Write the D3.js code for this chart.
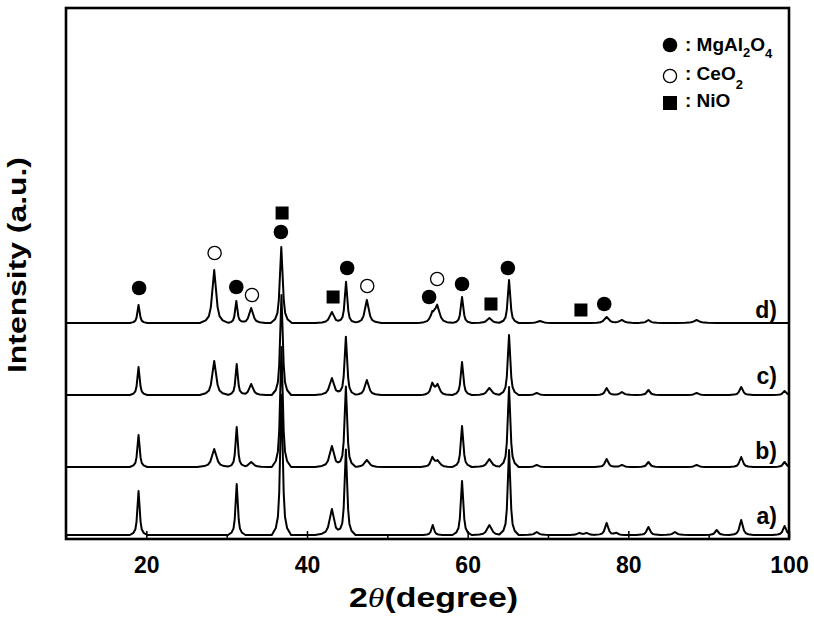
<!DOCTYPE html>
<html>
<head>
<meta charset="utf-8">
<script src="https://cdn.jsdelivr.net/npm/d3@7"></script>
<style>
body { margin: 0; background: #fff; }
text { font-family: "Liberation Sans", Arial, sans-serif; font-weight: bold; fill: #000; }
</style>
</head>
<body>
<svg id="chart" width="814" height="623"></svg>
<script>
// peak tables: [2theta, height (a.u.), half width (deg)]
var peaksA = [
  [19.03, 44, 0.18], [31.25, 51, 0.18], [36.82, 140, 0.2], [43.1, 26, 0.35],
  [44.84, 85, 0.2], [55.65, 10, 0.2], [59.3, 54, 0.2], [62.7, 10, 0.35],
  [65.15, 85, 0.2], [68.6, 3, 0.3], [73.9, 2, 0.3], [74.8, 2, 0.3],
  [77.3, 12, 0.25], [78.5, 2, 0.3], [82.5, 8, 0.25], [85.8, 3, 0.3],
  [91.0, 5, 0.25], [94.05, 15, 0.25], [99.45, 9, 0.25]
];
var peaksB = [
  [19.03, 32, 0.18], [28.45, 18, 0.35], [31.25, 40, 0.18], [33.05, 5, 0.35],
  [36.82, 120, 0.2], [43.1, 21, 0.35], [44.84, 80, 0.2], [47.45, 7, 0.35],
  [55.6, 9, 0.25], [56.25, 6, 0.35], [59.3, 41, 0.2], [62.7, 8, 0.35],
  [65.15, 80, 0.2], [68.6, 2, 0.3], [77.3, 8, 0.25], [79.2, 2, 0.3],
  [82.5, 5, 0.25], [88.5, 2, 0.3], [94.05, 10, 0.25], [99.45, 5, 0.25]
];
var peaksC = [
  [19.03, 28, 0.18], [28.45, 34, 0.3], [31.25, 31, 0.18], [33.05, 11, 0.3],
  [36.82, 100, 0.2], [43.1, 17, 0.35], [44.84, 58, 0.2], [47.45, 15, 0.3],
  [55.6, 11, 0.25], [56.25, 10, 0.3], [59.3, 33, 0.2], [62.7, 7, 0.35],
  [65.15, 60, 0.2], [68.6, 2, 0.3], [77.3, 7, 0.25], [79.2, 3, 0.3],
  [82.5, 5, 0.25], [88.5, 2, 0.3], [94.05, 8, 0.25], [99.45, 4, 0.25]
];
var peaksD = [
  [19.03, 18, 0.18], [28.45, 53, 0.3], [31.2, 22, 0.18], [33.05, 15, 0.3],
  [36.8, 76, 0.22], [43.1, 11, 0.35], [44.86, 41, 0.2], [47.45, 23, 0.3],
  [55.6, 8, 0.3], [56.2, 17, 0.35], [59.3, 26, 0.2], [62.7, 5, 0.35],
  [65.15, 43, 0.2], [69.0, 2, 0.4], [77.3, 6, 0.35], [79.2, 3, 0.35],
  [82.5, 3, 0.3], [88.5, 3, 0.4]
];
var patterns = [peaksA, peaksB, peaksC, peaksD];
var patternLabels = ["a)", "b)", "c)", "d)"];
var patternOffsets = [4, 72, 144, 216];

// phase markers above pattern d: [2theta, level (a.u.)]
var markMgAl2O4 = [[19.1, 251], [31.2, 252], [36.75, 307], [45.0, 271], [55.2, 242], [59.3, 255], [65.0, 271], [77.0, 235]];
var markCeO2 = [[28.5, 286], [33.15, 244], [47.5, 253], [56.2, 260]];
var markNiO = [[36.9, 326], [43.25, 242], [62.9, 235], [74.1, 229]];

var xMajor = [20, 40, 60, 80, 100];
var xMinor = [10, 30, 50, 70, 90];

// line shape of one peak, in half widths
var shape = [[-6, 0], [-3.5, 0.05], [-2.2, 0.13], [-1.4, 0.3], [-0.7, 0.65], [0, 1],
             [0.7, 0.65], [1.4, 0.3], [2.2, 0.13], [3.5, 0.05], [6, 0]];

var svg = d3.select("#chart");
var plotLeft = 66, plotRight = 789, plotTop = 8, plotBottom = 539;

var x = d3.scaleLinear().domain([10, 100]).range([plotLeft, plotRight]);
var y = d3.scaleLinear().domain([0, 531]).range([plotBottom, plotTop]);

// build a pattern: sum of the peak shapes, sampled at their corners
var profile = function (peaks) {
  var xs = [10, 100];
  var parts = peaks.map(function (p) {
    shape.forEach(function (s) { xs.push(p[0] + s[0] * p[2]); });
    return d3.scaleLinear()
      .domain(shape.map(function (s) { return p[0] + s[0] * p[2]; }))
      .range(shape.map(function (s) { return s[1] * p[1]; }))
      .clamp(true);
  });
  xs = xs.filter(function (v) { return v >= 10 && v <= 100; }).sort(d3.ascending);
  return xs.map(function (v) {
    return [v, d3.sum(parts, function (s) { return s(v); })];
  });
};

var traces = svg.append("g");
patterns.forEach(function (peaks, i) {
  var line = d3.line()
    .x(function (d) { return x(d[0]); })
    .y(function (d) { return y(d[1] + patternOffsets[i]); });
  traces.append("path")
    .attr("d", line(profile(peaks)))
    .attr("fill", "none")
    .attr("stroke", "#000")
    .attr("stroke-width", 2)
    .attr("stroke-linejoin", "round");
});

// pattern labels
var labelY = [524, 459, 384, 318];
svg.selectAll(".plabel").data(patternLabels).enter().append("text")
  .attr("class", "plabel")
  .attr("x", 777)
  .attr("y", function (d, i) { return labelY[i]; })
  .attr("text-anchor", "end")
  .style("font-size", "23px")
  .text(function (d) { return d; });

// markers
var marks = svg.append("g");
marks.selectAll("circle.mg").data(markMgAl2O4).enter().append("circle")
  .attr("cx", function (d) { return x(d[0]); })
  .attr("cy", function (d) { return y(d[1]); })
  .attr("r", 7.3).attr("fill", "#000");
marks.selectAll("circle.ce").data(markCeO2).enter().append("circle")
  .attr("cx", function (d) { return x(d[0]); })
  .attr("cy", function (d) { return y(d[1]); })
  .attr("r", 6.6).attr("fill", "#fff").attr("stroke", "#000").attr("stroke-width", 1.3);
marks.selectAll("rect").data(markNiO).enter().append("rect")
  .attr("x", function (d) { return x(d[0]) - 6.5; })
  .attr("y", function (d) { return y(d[1]) - 6.5; })
  .attr("width", 13).attr("height", 13).attr("fill", "#000");

// axis ticks (inside)
var axis = svg.append("g").attr("transform", "translate(0," + plotBottom + ")");
axis.call(d3.axisBottom(x).tickValues(xMajor).tickSize(-8).tickPadding(18).tickFormat(d3.format("d")));
axis.select(".domain").remove();
axis.selectAll("line").attr("stroke-width", 1.5);
axis.selectAll("text").style("font-size", "23px").attr("font-family", null);
var minor = svg.append("g").attr("transform", "translate(0," + plotBottom + ")");
minor.call(d3.axisBottom(x).tickValues(xMinor).tickSize(-5).tickFormat(""));
minor.select(".domain").remove();
minor.selectAll("line").attr("stroke-width", 1.5);

// frame
svg.append("rect")
  .attr("x", plotLeft).attr("y", plotTop)
  .attr("width", plotRight - plotLeft).attr("height", plotBottom - plotTop)
  .attr("fill", "none").attr("stroke", "#000").attr("stroke-width", 2.6);

// axis titles
var xt = svg.append("text")
  .attr("x", 349).attr("y", 607)
  .attr("textLength", 169).attr("lengthAdjust", "spacingAndGlyphs")
  .style("font-size", "28px");
xt.append("tspan").text("2");
xt.append("tspan").text("\u03b8")
  .style("font-family", "'Liberation Serif', 'Times New Roman', serif")
  .style("font-style", "italic").style("font-weight", "normal");
xt.append("tspan").text("(degree)");

svg.append("text")
  .attr("transform", "rotate(-90)")
  .attr("x", -373).attr("y", 26)
  .attr("textLength", 216).attr("lengthAdjust", "spacingAndGlyphs")
  .style("font-size", "26px")
  .text("Intensity (a.u.)");

// legend
var legend = svg.append("g");
legend.append("circle").attr("cx", 670).attr("cy", 45).attr("r", 7.3).attr("fill", "#000");
legend.append("circle").attr("cx", 670).attr("cy", 76).attr("r", 6.6)
  .attr("fill", "#fff").attr("stroke", "#000").attr("stroke-width", 1.3);
legend.append("rect").attr("x", 663).attr("y", 96).attr("width", 14).attr("height", 14).attr("fill", "#000");

var l1 = legend.append("text").attr("x", 685).attr("y", 51).style("font-size", "19px");
l1.append("tspan").text(": MgAl");
l1.append("tspan").attr("dy", 6).style("font-size", "13px").text("2");
l1.append("tspan").attr("dy", -6).text("O");
l1.append("tspan").attr("dy", 7).style("font-size", "13px").text("4");

var l2 = legend.append("text").attr("x", 685).attr("y", 80).style("font-size", "19px");
l2.append("tspan").text(": CeO");
l2.append("tspan").attr("dy", 9).style("font-size", "13px").text("2");

legend.append("text").attr("x", 685).attr("y", 107).style("font-size", "19px").text(": NiO");
</script>
</body>
</html>
